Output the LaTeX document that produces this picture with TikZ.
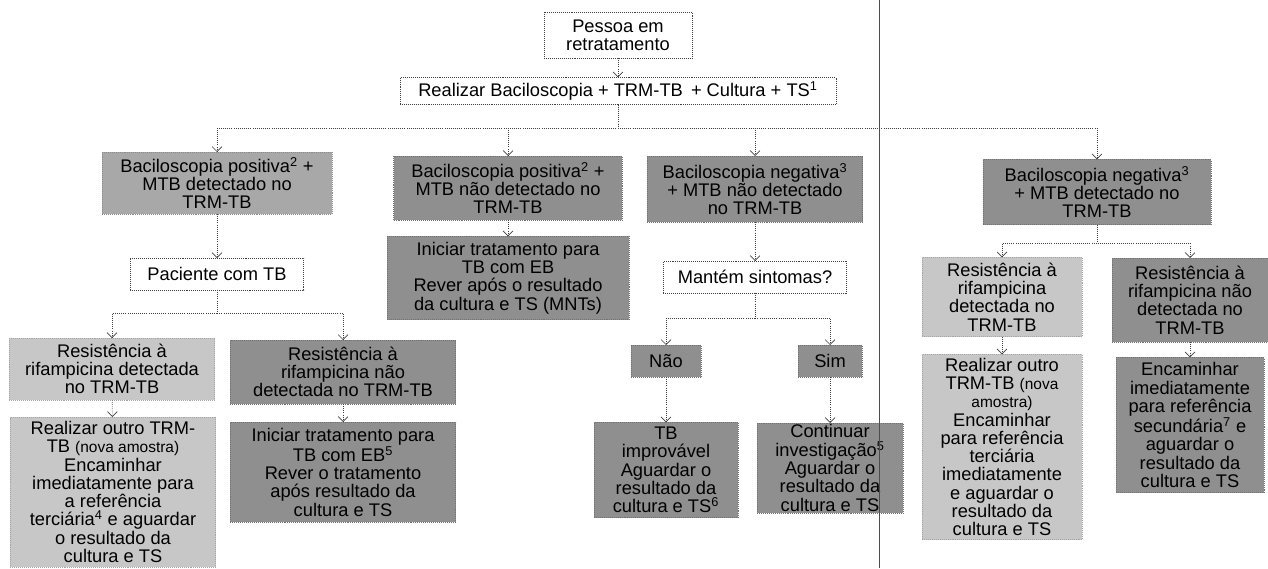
\documentclass[tikz,border=0pt]{standalone}
\usepackage{fontspec}
\setmainfont{Liberation Sans}
\usetikzlibrary{arrows.meta}

\begin{document}
\begin{tikzpicture}[x=0.025cm,y=-0.025cm,every node/.style={outer sep=0pt,inner sep=1pt,align=center,font=\fontsize{13}{13}\selectfont}]
	
	\useasboundingbox (0,0) rectangle (1268,568);
	
	\tikzstyle{plain}=[draw=black!75,densely dotted,fill=white]
	\tikzstyle{light}=[draw=black!35,densely dotted,fill=black!22]
	\tikzstyle{mid}=[draw=black!45,densely dotted,fill=black!34]
	\tikzstyle{dark}=[draw=black!55,densely dotted,fill=black!44]
	\tikzstyle{link}=[densely dotted,draw=black!75,line width=0.5pt]
	\tikzstyle{arrow}=[link,-{Straight Barb[length=3.5pt,width=7pt]}]
	
	% top
	\node (pessoa) at (618,35) [plain,minimum width=3.7cm,minimum height=1.15cm] {Pessoa em\\retratamento};
	\node (realizar) at (618,91) [plain,minimum width=10.9cm,minimum height=0.68cm] {Realizar Baciloscopia + TRM-TB \,+ Cultura + TS\textsuperscript{1}};
	
	\coordinate (split1) at (618,128);
	
	% first row of results
	\node (bpos) at (217,183) [mid,minimum width=5.75cm,minimum height=1.55cm] {Baciloscopia positiva\textsuperscript{2} +\\MTB detectado no\\TRM-TB};
	\node (bposnao) at (508,188) [dark,minimum width=5.72cm,minimum height=1.6cm] {Baciloscopia positiva\textsuperscript{2} +\\MTB não detectado no\\TRM-TB};
	\node (bnegnao) at (755,189) [dark,minimum width=5.38cm,minimum height=1.65cm] {Baciloscopia negativa\textsuperscript{3}\\+ MTB não detectado\\no TRM-TB};
	\node (bneg) at (1097,192) [dark,minimum width=5.7cm,minimum height=1.63cm] {Baciloscopia negativa\textsuperscript{3}\\+ MTB detectado no\\TRM-TB};
	
	\draw [arrow] (pessoa) -- (realizar);
	\draw [arrow] (realizar) -- (split1) -| (bpos.north);
	\draw [arrow] (realizar) -- (split1) -| (bposnao.north);
	\draw [arrow] (realizar) -- (split1) -| (bnegnao.north);
	\draw [arrow] (realizar) -- (split1) -| (bneg.north);
	
	% left branch
	\node (paciente) at (217,274) [plain,minimum width=4.33cm,minimum height=0.8cm] {Paciente com TB};
	\coordinate (split2) at (217,313);
	\node (resdet) at (112,369) [light,minimum width=5.13cm,minimum height=1.55cm] {Resistência à\\rifampicina detectada\\no TRM-TB};
	\node (resnao) at (343,372) [dark,minimum width=5.63cm,minimum height=1.6cm] {Resistência à\\rifampicina não\\detectada no TRM-TB};
	\node (outroA) at (113,492) [light,minimum width=5.13cm,minimum height=3.75cm] {Realizar outro TRM-\\TB {\fontsize{11}{13}\selectfont(nova amostra)}\\Encaminhar\\imediatamente para\\a referência\\terciária\textsuperscript{4} e aguardar\\o resultado da\\cultura e TS};
	\node (iniciarA) at (343,472) [dark,minimum width=5.63cm,minimum height=2.5cm] {Iniciar tratamento para\\TB com EB\textsuperscript{5}\\Rever o tratamento\\após resultado da\\cultura e TS};
	
	\draw [arrow] (bpos) -- (paciente);
	\draw [arrow] (paciente) -- (split2) -| (resdet.north);
	\draw [arrow] (paciente) -- (split2) -| (resnao.north);
	\draw [arrow] (resdet) -- (outroA);
	\draw [arrow] (resnao) -- (iniciarA);
	
	% second branch
	\node (iniciarB) at (508,278) [dark,minimum width=6.05cm,minimum height=2.08cm] {Iniciar tratamento para\\TB com EB\\Rever após o resultado\\da cultura e TS (MNTs)};
	\draw [arrow] (bposnao) -- (iniciarB);
	
	% third branch
	\node (mantem) at (755,277) [plain,minimum width=4.58cm,minimum height=0.8cm] {Mantém sintomas?};
	\coordinate (split3) at (755,318);
	\node (nao) at (666,361) [dark,minimum width=1.75cm,minimum height=0.8cm] {Não};
	\node (sim) at (830,361) [dark,minimum width=1.6cm,minimum height=0.8cm] {Sim};
	\node (improvavel) at (666,470) [dark,minimum width=3.6cm,minimum height=2.38cm] {TB\\improvável\\Aguardar o\\resultado da\\cultura e TS\textsuperscript{6}};
	\node (continuar) at (830,468) [dark,minimum width=3.65cm,minimum height=2.25cm] {Continuar\\investigação\textsuperscript{5}\\Aguardar o\\resultado da\\cultura e TS};
	
	\draw [arrow] (bnegnao) -- (mantem);
	\draw [arrow] (mantem) -- (split3) -| (nao.north);
	\draw [arrow] (mantem) -- (split3) -| (sim.north);
	\draw [arrow] (nao) -- (improvavel);
	\draw [arrow] (sim) -- (continuar);
	
	% right branch
	\coordinate (split4) at (1097,243);
	\node (resdetD) at (1002,297) [light,minimum width=4cm,minimum height=1.98cm] {Resistência à\\rifampicina\\detectada no\\TRM-TB};
	\node (resnaoD) at (1190,300) [dark,minimum width=3.9cm,minimum height=2.1cm] {Resistência à\\rifampicina não\\detectada no\\TRM-TB};
	\node (outroD) at (1002,447) [light,minimum width=4cm,minimum height=4.63cm] {Realizar outro\\TRM-TB {\fontsize{11}{13}\selectfont(nova}\\{\fontsize{11}{13}\selectfont amostra)}\\Encaminhar\\para referência\\terciária\\imediatamente\\e aguardar o\\resultado da\\cultura e TS};
	\node (encaminhar) at (1190,425) [dark,minimum width=3.7cm,minimum height=3.38cm] {Encaminhar\\imediatamente\\para referência\\secundária\textsuperscript{7} e\\aguardar o\\resultado da\\cultura e TS};
	
	\draw [arrow] (bneg) -- (split4) -| (resdetD.north);
	\draw [arrow] (bneg) -- (split4) -| (resnaoD.north);
	\draw [arrow] (resdetD) -- (outroD);
	\draw [arrow] (resnaoD) -- (encaminhar);
	
	% page edge
	\draw [black!70] (879,0) -- (879,568);
	
\end{tikzpicture}
\end{document}
